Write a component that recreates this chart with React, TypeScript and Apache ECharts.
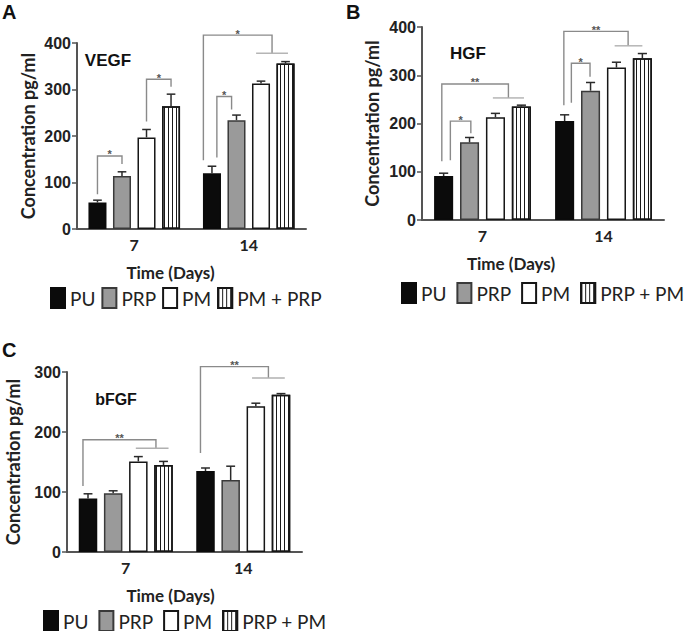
import React, { useEffect, useRef } from 'react';
import * as echarts from 'echarts';

// ---------- data ----------
const days = ['7', '14'];
const namesA = ['PU', 'PRP', 'PM', 'PM + PRP'];
const namesBC = ['PU', 'PRP', 'PM', 'PRP + PM'];

// Panel A – VEGF (pg/ml), mean and SD
const vegfPU = [57, 120];
const vegfPRP = [114, 234];
const vegfPM = [197, 313];
const vegfPMPRP = [264, 356];
const vegfPUsd = [5, 15];
const vegfPRPsd = [9, 11];
const vegfPMsd = [17, 5];
const vegfPMPRPsd = [26, 4];

// Panel B – HGF
const hgfPU = [91, 205];
const hgfPRP = [161, 268];
const hgfPM = [213, 316];
const hgfPRPPM = [235, 335];
const hgfPUsd = [6, 13];
const hgfPRPsd = [10, 17];
const hgfPMsd = [8, 11];
const hgfPRPPMsd = [3, 10];

// Panel C – bFGF
const bfgfPU = [89, 135];
const bfgfPRP = [98, 120];
const bfgfPM = [151, 243];
const bfgfPRPPM = [145, 262];
const bfgfPUsd = [8, 5];
const bfgfPRPsd = [4, 23];
const bfgfPMsd = [8, 5];
const bfgfPRPPMsd = [6, 2];

// significance brackets: [day index, left bar pos, right bar pos, left foot, top, right foot, span from, span to]
const vegfBrackets = [
  [0, 0, 1, 75, 157, 140, -1, -1],
  [0, 2, 3, 231, 322, 306, -1, -1],
  [1, 0.2, 0.8, 154, 285, 257, -1, -1],
  [1, -0.35, 2.45, 148, 417, 378, 1.8, 3.1],
];
const vegfStars = ['*', '*', '*', '*'];
const hgfBrackets = [
  [0, 0.26, 1.05, 124, 205, 180, -1, -1],
  [0, -0.07, 2.5, 122, 282, 253, 1.9, 3.1],
  [1, 0.26, 0.98, 243, 325, 297, -1, -1],
  [1, -0.03, 2.45, 238, 391, 361, 1.93, 3.0],
];
const hgfStars = ['*', '**', '*', '**'];
const bfgfBrackets = [
  [0, -0.2, 2.7, 110, 187, 173, 1.9, 3.2],
  [1, -0.2, 2.5, 165, 309, 290, 1.85, 3.15],
];
const bfgfStars = ['**', '**'];

const yTicksAB = { min: 0, max: 400, interval: 100 };
const yTicksC = { min: 0, max: 300, interval: 100 };

// ---------- styling ----------
const CAT_GAP = 0.2;
const BAR_GAP = 0.36;
const AXIS_COLOR = '#555';
const TEXT_COLOR = '#222';
const CAL = 'Lato, "Open Sans", sans-serif';
const ARIAL = '"Liberation Sans", Arial, sans-serif';

const barStyles: any[] = [
  { color: '#0b0b0b', borderColor: '#0b0b0b', borderWidth: 1.5 },
  { color: '#9a9a9a', borderColor: '#3a3a3a', borderWidth: 1.5 },
  { color: '#ffffff', borderColor: '#161616', borderWidth: 1.5 },
  {
    color: '#ffffff',
    borderColor: '#161616',
    borderWidth: 1.5,
    decal: {
      symbol: 'rect',
      symbolSize: 1,
      color: '#1a1a1a',
      dashArrayX: [1, 3],
      dashArrayY: [4, 0],
      rotation: 0,
    },
  },
];

function barGeom(band: number, p: number) {
  const inner = band * (1 - CAT_GAP);
  const w = inner / (4 + 3 * BAR_GAP);
  return { off: -inner / 2 + w / 2 + p * w * (1 + BAR_GAP), w };
}

const errRender = (params: any, api: any) => {
  const cat = api.value(0);
  const bi = api.value(1);
  const v = api.value(2);
  const sd = api.value(3);
  const base = api.coord([cat, v]);
  const top = api.coord([cat, v + sd]);
  const band = api.size([1, 0])[0];
  const g = barGeom(band, bi);
  const x = base[0] + g.off;
  const half = g.w * 0.24;
  const st = { stroke: '#2a2a2a', lineWidth: 1.5, fill: null };
  return {
    type: 'group',
    children: [
      { type: 'line', shape: { x1: x, y1: base[1], x2: x, y2: top[1] }, style: st },
      { type: 'line', shape: { x1: x - half, y1: top[1], x2: x + half, y2: top[1] }, style: st },
    ],
  };
};

const bracketRender = (labels: string[]) => (params: any, api: any) => {
  const cat = api.value(0);
  const band = api.size([1, 0])[0];
  const cx = api.coord([cat, 0])[0];
  const X = (p: number) => cx + barGeom(band, p).off;
  const Y = (v: number) => api.coord([cat, v])[1];
  const xl = X(api.value(1));
  const xr = X(api.value(2));
  const yl = Y(api.value(3));
  const yt = Y(api.value(4));
  const yr = Y(api.value(5));
  const children: any[] = [
    {
      type: 'polyline',
      shape: { points: [[xl, yl], [xl, yt], [xr, yt], [xr, yr]] },
      style: { stroke: '#8a8a8a', lineWidth: 1.4, fill: null },
    },
    {
      type: 'text',
      x: (xl + xr) / 2,
      y: yt - 1.5,
      style: {
        text: labels[params.dataIndex],
        fill: '#555',
        font: 'bold 11px ' + ARIAL,
        align: 'center',
        verticalAlign: 'middle',
        textAlign: 'center',
        textVerticalAlign: 'middle',
      },
    },
  ];
  const s1 = api.value(6);
  const s2 = api.value(7);
  if (s1 > -1 && s2 > -1) {
    children.push({
      type: 'line',
      shape: { x1: X(s1), y1: yr, x2: X(s2), y2: yr },
      style: { stroke: '#b0b0b0', lineWidth: 1.4 },
    });
  }
  return { type: 'group', children };
};

function panelSeries(idx: number, names: string[], vals: number[][], sds: number[][], brackets: number[][], stars: string[]) {
  const out: any[] = [];
  names.forEach((n, i) => {
    out.push({
      type: 'bar',
      name: n,
      xAxisIndex: idx,
      yAxisIndex: idx,
      data: vals[i],
      barGap: BAR_GAP * 100 + '%',
      barCategoryGap: CAT_GAP * 100 + '%',
      itemStyle: barStyles[i],
      emphasis: { disabled: true },
    });
  });
  const errData: number[][] = [];
  vals.forEach((arr, i) => arr.forEach((v, c) => errData.push([c, i, v, sds[i][c]])));
  out.push({
    type: 'custom',
    name: 'err' + idx,
    xAxisIndex: idx,
    yAxisIndex: idx,
    renderItem: errRender,
    data: errData,
    encode: { x: 0, y: 2 },
    silent: true,
    z: 4,
  });
  out.push({
    type: 'custom',
    name: 'sig' + idx,
    xAxisIndex: idx,
    yAxisIndex: idx,
    renderItem: bracketRender(stars),
    data: brackets,
    encode: { x: 0, y: 4 },
    silent: true,
    clip: false,
    z: 5,
  });
  return out;
}

function xAxis(idx: number, shift: number) {
  return {
    type: 'category',
    gridIndex: idx,
    data: days,
    axisLine: { lineStyle: { color: AXIS_COLOR, width: 2 } },
    axisTick: { alignWithLabel: true, length: 4, lineStyle: { color: AXIS_COLOR, width: 1.5 } },
    axisLabel: { color: TEXT_COLOR, fontFamily: CAL, fontWeight: 'bold', fontSize: 16, margin: 7 },
    name: 'Time (Days)',
    nameLocation: 'middle',
    nameGap: 35,
    nameTextStyle: {
      color: TEXT_COLOR,
      fontFamily: CAL,
      fontWeight: 'bold',
      fontSize: 17,
      padding: [0, shift, 0, 0],
    },
  };
}

function yAxis(idx: number, ticks: any, gap: number) {
  return {
    type: 'value',
    gridIndex: idx,
    ...ticks,
    axisLine: { show: true, lineStyle: { color: AXIS_COLOR, width: 2 } },
    axisTick: { show: true, length: 5, lineStyle: { color: AXIS_COLOR, width: 1.5 } },
    splitLine: { show: false },
    axisLabel: { color: TEXT_COLOR, fontFamily: ARIAL, fontWeight: 'bold', fontSize: 16, margin: 6 },
    name: 'Concentration pg/ml',
    nameLocation: 'middle',
    nameRotate: 90,
    nameGap: gap,
    nameTextStyle: { color: TEXT_COLOR, fontFamily: CAL, fontWeight: 'bold', fontSize: 18 },
  };
}

function legend(names: string[], left: number, top: number, gap: number) {
  return {
    data: names,
    left,
    top,
    padding: 0,
    icon: 'rect',
    itemWidth: 14,
    itemHeight: 20,
    itemGap: gap,
    selectedMode: false,
    textStyle: { color: TEXT_COLOR, fontFamily: CAL, fontSize: 19 },
  };
}

function label(text: string, x: number, y: number, size: number, align = 'left') {
  return {
    type: 'text',
    x,
    y,
    style: {
      text,
      fill: '#111',
      font: 'bold ' + size + 'px ' + ARIAL,
      textAlign: align,
      textVerticalAlign: 'middle',
      align,
      verticalAlign: 'middle',
    },
  };
}

export default function App() {
  const ref = useRef<HTMLDivElement>(null);
  useEffect(() => {
    if (!ref.current) return;
    const chart = echarts.init(ref.current, undefined, { renderer: 'svg' });
    const option: any = {
      animation: false,
      backgroundColor: '#ffffff',
      grid: [
        { left: 77, top: 43, width: 229, height: 186 },
        { left: 422, top: 27, width: 242, height: 193 },
        { left: 67, top: 372, width: 235, height: 180 },
      ],
      xAxis: [xAxis(0, 42), xAxis(1, 64), xAxis(2, 28)],
      yAxis: [yAxis(0, yTicksAB, 40), yAxis(1, yTicksAB, 41), yAxis(2, yTicksC, 45)],
      legend: [
        legend(namesA, 50, 287, 6),
        legend(namesBC, 401, 282, 10),
        legend(namesBC, 43, 610, 10),
      ],
      series: [
        ...panelSeries(
          0,
          namesA,
          [vegfPU, vegfPRP, vegfPM, vegfPMPRP],
          [vegfPUsd, vegfPRPsd, vegfPMsd, vegfPMPRPsd],
          vegfBrackets,
          vegfStars
        ),
        ...panelSeries(
          1,
          namesBC,
          [hgfPU, hgfPRP, hgfPM, hgfPRPPM],
          [hgfPUsd, hgfPRPsd, hgfPMsd, hgfPRPPMsd],
          hgfBrackets,
          hgfStars
        ),
        ...panelSeries(
          2,
          namesBC,
          [bfgfPU, bfgfPRP, bfgfPM, bfgfPRPPM],
          [bfgfPUsd, bfgfPRPsd, bfgfPMsd, bfgfPRPPMsd],
          bfgfBrackets,
          bfgfStars
        ),
      ],
      graphic: [
        label('A', 2, 12, 20),
        label('B', 346, 12, 20),
        label('C', 2, 350, 20),
        label('VEGF', 108, 60, 17, 'center'),
        label('HGF', 468, 53, 17, 'center'),
        label('bFGF', 116, 399, 16, 'center'),
      ],
    };
    chart.setOption(option);
    return () => chart.dispose();
  }, []);
  return (
    <div
      ref={ref}
      style={{ position: 'absolute', left: 0, top: 0, width: 685, height: 631, background: '#fff' }}
    />
  );
}
